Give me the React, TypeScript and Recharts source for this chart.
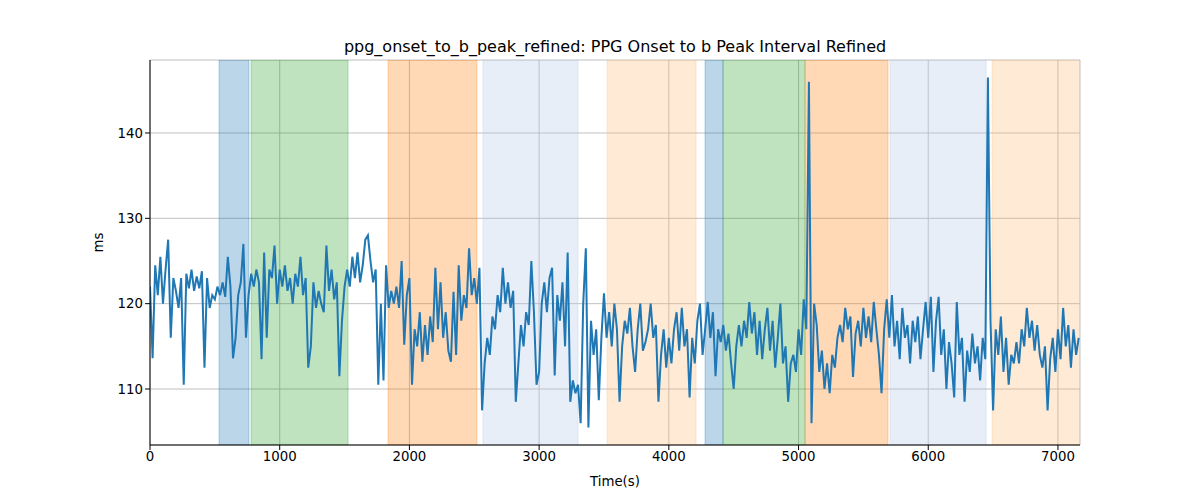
import { LineChart, Line, XAxis, YAxis, CartesianGrid, ReferenceArea } from 'recharts';

// one reading every 20 s, from 0 s to 7160 s
const step = 20;
const intervalMs = [
  // 0 - 480
  122, 113.6, 124.5, 121, 125.5, 120, 124, 127.5, 116, 123, 121.5, 119.5, 123, 110.5, 123.5, 121.8, 124, 121.5, 123.2, 121.8, 123.8, 112.5, 123, 119.5, 121,
  // 500 - 980
  120.5, 122, 121, 122.5, 120.8, 125.5, 122, 113.6, 116, 121, 122.5, 127, 116, 121, 123.5, 122, 124, 122.5, 113.5, 126, 116, 124, 123, 126.8, 120,
  // 1000 - 1480
  124, 122, 124.5, 121.5, 123, 120, 123.5, 122, 125.5, 121, 123, 112.5, 115, 122.5, 119.5, 121.5, 120, 119, 126.8, 121.5, 124, 120.5, 122.5, 111.5, 118,
  // 1500 - 1980
  122, 124, 122, 125.5, 123, 126, 122.5, 124.5, 127.5, 128, 125, 122.5, 124, 110.5, 120, 111, 124.5, 119.5, 121.5, 120, 122, 119.5, 125, 115.2, 121,
  // 2000 - 2480
  123, 110.5, 117, 115, 119, 113.2, 117.5, 114, 118.5, 115.5, 124.2, 117, 122.5, 116, 119, 114.5, 113.2, 121.4, 114, 124.5, 118, 121, 119.5, 126.5, 121,
  // 2500 - 2980
  123, 120, 124.2, 107.5, 113, 116, 114, 118.5, 117, 121, 119, 124.2, 120, 122.5, 119.5, 121.5, 108.5, 113, 117.5, 115, 119, 117.5, 125, 119, 110.5,
  // 3000 - 3480
  112, 120, 122.5, 119, 123, 124.2, 111.6, 121, 118, 122.5, 115, 126, 108.5, 111, 109.5, 110.5, 106, 120, 126.5, 105.5, 118, 114, 117, 108.7, 116,
  // 3500 - 3980
  121.2, 116, 119, 115, 120, 117, 108.5, 115, 118, 116.5, 119.5, 115, 112, 117, 120, 114.5, 115.5, 117, 120, 116, 117.5, 108.5, 114, 117, 112.5,
  // 4000 - 4480
  116, 113, 117, 119, 114.5, 119.5, 115, 117, 109, 116, 113, 118, 120, 114, 117, 120.2, 116, 119, 111.5, 117, 115.5, 117.5, 114.5, 116.5, 113,
  // 4500 - 4980
  110, 115, 117.5, 115, 118, 116, 120.2, 116.5, 119, 114, 118, 113.5, 117, 119.5, 114.5, 118, 112.5, 116, 120, 113, 115, 108.5, 113, 114, 112,
  // 5000 - 5480
  117, 114, 120.5, 117, 146, 106, 120, 117.5, 112, 114.5, 110, 113, 109.5, 114, 112.5, 116, 117.5, 115.5, 119.5, 117, 118.5, 111.4, 116.5, 118, 115,
  // 5500 - 5980
  119.5, 116, 118.5, 115.5, 120.2, 117, 114, 109.5, 117, 120.5, 116, 121, 115, 118, 113.5, 119.5, 116, 117.5, 113, 118, 115.5, 118.5, 113.5, 117, 120.2,
  // 6000 - 6480
  116, 120.8, 112, 118, 120.8, 114, 117, 110, 115.5, 113, 109, 120.2, 114, 116, 108.5, 114.5, 112, 116.5, 113, 115, 111, 116, 113.5, 146.5, 118,
  // 6500 - 6980
  107.5, 117, 114, 118.5, 112, 116, 110.5, 114, 113, 115.5, 113, 117, 115, 119.5, 116, 118, 114.5, 117.5, 114, 112.5, 115, 107.5, 113.5, 116, 112,
  // 7000 - 7160
  117, 113.5, 119.5, 115, 117.5, 112.5, 117, 114, 116,
];

const data = intervalMs.map((v, i) => ({ t: i * step, ms: v }));

// shaded segments: start s, end s, colour
const segStart = [532, 779, 1835, 2567, 3524, 4279, 4418, 5050, 5705, 6492];
const segEnd = [763, 1527, 2521, 3300, 4210, 4418, 5050, 5690, 6446, 7170];
const segColor = ['#1f77b4', '#2ca02c', '#ff7f0e', '#aec7e8', '#ffbb78', '#1f77b4', '#2ca02c', '#ff7f0e', '#aec7e8', '#ffbb78'];

const xTicks = [0, 1000, 2000, 3000, 4000, 5000, 6000, 7000];
const yTicks = [110, 120, 130, 140];

const font = 'DejaVu Sans, sans-serif';
const tickStyle = { fill: '#000', fontSize: 13.3, fontFamily: font };

export default function App() {
  return (
    <div style={{ position: 'absolute', left: 0, top: 0, width: 1200, height: 500, background: '#fff' }}>
      <div
        style={{
          position: 'absolute',
          top: 37,
          left: 150,
          width: 930,
          textAlign: 'center',
          fontFamily: font,
          fontSize: 16,
          color: '#000',
        }}
      >
        ppg_onset_to_b_peak_refined: PPG Onset to b Peak Interval Refined
      </div>
      <LineChart width={1200} height={500} data={data} margin={{ top: 60, right: 120, left: 0, bottom: 0 }}>
        <CartesianGrid stroke="#b0b0b0" strokeWidth={0.8} />
        {segStart.map((s, i) => (
          <ReferenceArea
            key={i}
            x1={s}
            x2={segEnd[i]}
            fill={segColor[i]}
            fillOpacity={0.3}
            stroke={segColor[i]}
            strokeOpacity={0.3}
            ifOverflow="hidden"
          />
        ))}
        <XAxis
          dataKey="t"
          type="number"
          domain={[0, 7170]}
          ticks={xTicks}
          allowDataOverflow
          height={55}
          stroke="#000"
          tickSize={5}
          tick={tickStyle}
          label={{ value: 'Time(s)', position: 'insideBottom', offset: 14, fill: '#000', fontSize: 13.3, fontFamily: font }}
        />
        <XAxis xAxisId="top" orientation="top" dataKey="t" type="number" domain={[0, 7170]} height={0} tick={false} tickLine={false} stroke="#000" />
        <YAxis
          type="number"
          domain={[103.44, 148.55]}
          ticks={yTicks}
          allowDataOverflow
          width={150}
          stroke="#000"
          tickSize={5}
          tick={tickStyle}
          label={{ value: 'ms', angle: -90, position: 'insideLeft', offset: 98, fill: '#000', fontSize: 13.3, fontFamily: font }}
        />
        <YAxis yAxisId="right" orientation="right" domain={[103.44, 148.55]} width={0} tick={false} tickLine={false} stroke="#000" />
        <Line
          type="linear"
          dataKey="ms"
          stroke="#1f77b4"
          strokeWidth={2}
          dot={false}
          isAnimationActive={false}
        />
      </LineChart>
    </div>
  );
}
